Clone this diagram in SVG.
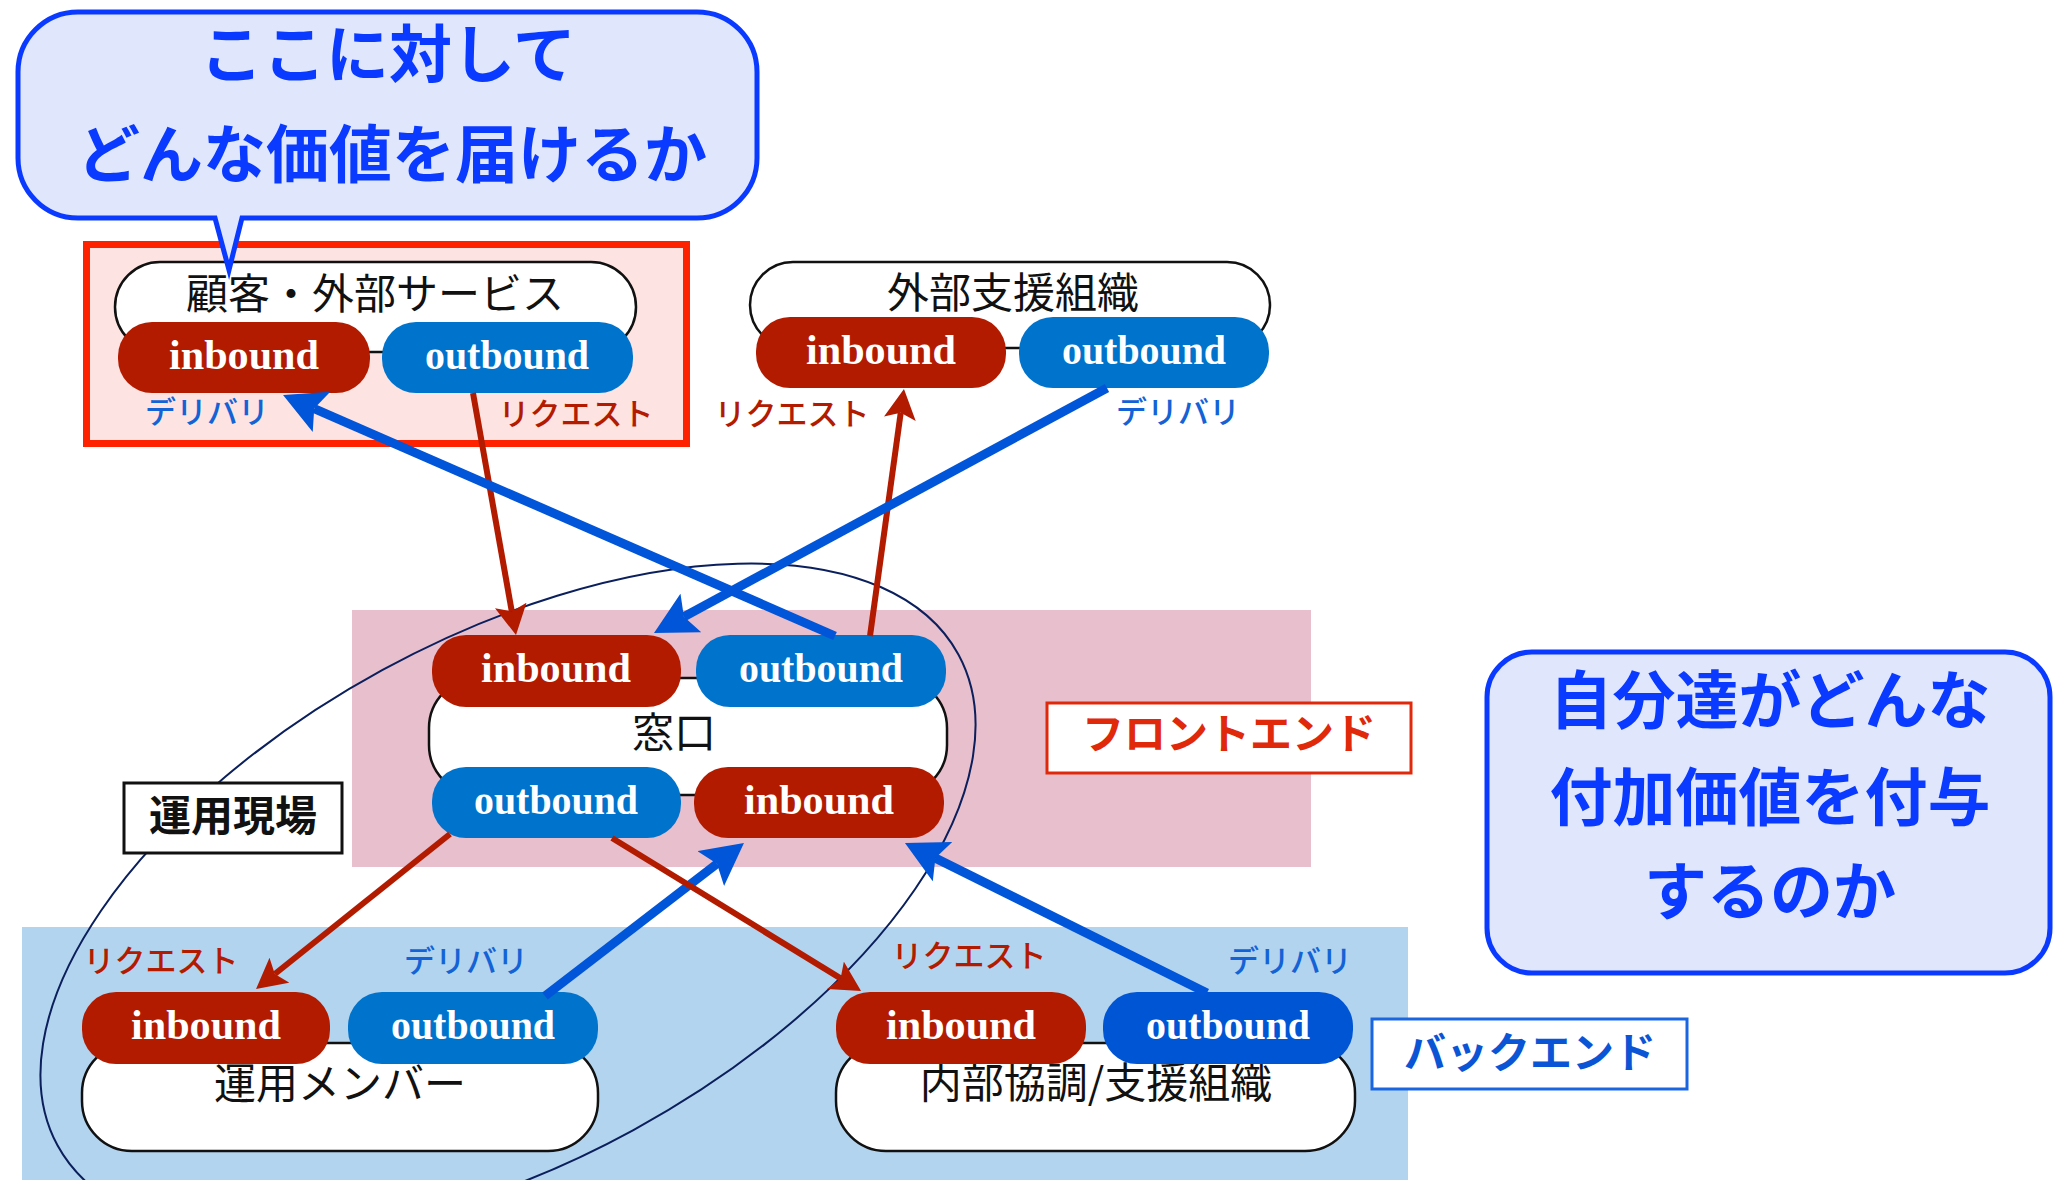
<svg xmlns="http://www.w3.org/2000/svg" width="2064" height="1180" viewBox="0 0 2064 1180">
<style>
.jp{font-family:'Noto Sans CJK JP','Noto Sans',sans-serif}
.title{font-size:42px;fill:#111;text-anchor:middle}
.cont{fill:#fff;stroke:#111;stroke-width:2.5}
.pin{fill:#b31b00}
.pout{fill:#0073cc}
.pout2{fill:#0055d5}
.pt{font-family:'Liberation Serif','Times New Roman',serif;font-weight:bold;font-size:42px;fill:#fff;text-anchor:middle}
.req{font-size:31px;font-weight:500;fill:#b31b00;text-anchor:middle}
.del{font-size:31px;font-weight:500;fill:#1363d6;text-anchor:middle}
.cl{fill:#e0e6fc;stroke:#0a3aff;stroke-width:5}
.clt{font-size:63px;font-weight:bold;fill:#0a3aff;text-anchor:middle}
.cr{fill:none;stroke:#b31b00;stroke-width:6}
.cb{fill:none;stroke:#0055d8;stroke-width:9}
</style>
<defs>
<marker id="ar" markerUnits="userSpaceOnUse" markerWidth="30" markerHeight="32" refX="6" refY="16" orient="auto" viewBox="0 0 30 32">
<path d="M0,0 L30,16 L0,32 L6,16 Z" fill="#b31b00"/>
</marker>
<marker id="ab" markerUnits="userSpaceOnUse" markerWidth="42" markerHeight="44" refX="8" refY="22" orient="auto" viewBox="0 0 42 44">
<path d="M0,0 L42,22 L0,44 L8,22 Z" fill="#0055d8"/>
</marker>
</defs>

<g id="areas">
<rect x="352" y="610" width="959" height="257" fill="#e8bfcc"/>
<rect x="22" y="927" width="1386" height="253" fill="#b3d4ee"/>
<rect x="86.5" y="244.5" width="600" height="199" fill="#fde3e1" stroke="#ff2200" stroke-width="7"/>
<ellipse cx="508" cy="900" rx="513" ry="262" transform="rotate(-28.6 508 900)" fill="none" stroke="#0a1f5c" stroke-width="2"/>
</g>

<g id="customer">
<rect class="cont" x="115" y="262" width="521" height="90" rx="45"/>
<text class="jp title" x="375" y="309">顧客・外部サービス</text>
<rect class="pin" x="118" y="322" width="252" height="71" rx="34"/>
<text class="pt" x="244" y="369" textLength="150" lengthAdjust="spacingAndGlyphs">inbound</text>
<rect class="pout" x="382" y="322" width="251" height="71" rx="34"/>
<text class="pt" x="507" y="369" textLength="164" lengthAdjust="spacingAndGlyphs">outbound</text>
<text class="jp del" x="207" y="423">デリバリ</text>
<text class="jp req" x="576" y="425">リクエスト</text>
</g>

<g id="external">
<rect class="cont" x="750" y="262" width="520" height="86" rx="43"/>
<text class="jp title" x="1013" y="308">外部支援組織</text>
<rect class="pin" x="756" y="317" width="250" height="71" rx="34"/>
<text class="pt" x="881" y="364" textLength="150" lengthAdjust="spacingAndGlyphs">inbound</text>
<rect class="pout" x="1019" y="317" width="250" height="71" rx="34"/>
<text class="pt" x="1144" y="364" textLength="164" lengthAdjust="spacingAndGlyphs">outbound</text>
<text class="jp req" x="792" y="425">リクエスト</text>
<text class="jp del" x="1178" y="423">デリバリ</text>
</g>

<g id="madoguchi">
<rect class="cont" x="429" y="678" width="518" height="117" rx="50"/>
<text class="jp title" x="674" y="748">窓口</text>
<rect class="pin" x="432" y="635" width="249" height="72" rx="34"/>
<text class="pt" x="556" y="682" textLength="150" lengthAdjust="spacingAndGlyphs">inbound</text>
<rect class="pout" x="696" y="635" width="250" height="72" rx="34"/>
<text class="pt" x="821" y="682" textLength="164" lengthAdjust="spacingAndGlyphs">outbound</text>
<rect class="pout" x="432" y="767" width="249" height="71" rx="34"/>
<text class="pt" x="556" y="814" textLength="164" lengthAdjust="spacingAndGlyphs">outbound</text>
<rect class="pin" x="694" y="767" width="250" height="71" rx="34"/>
<text class="pt" x="819" y="814" textLength="150" lengthAdjust="spacingAndGlyphs">inbound</text>
</g>

<g id="frontend-label">
<rect x="1047" y="703" width="364" height="70" fill="#fff" stroke="#e0280a" stroke-width="3"/>
<text class="jp" x="1229" y="749" font-size="42" font-weight="bold" fill="#e0280a" text-anchor="middle">フロントエンド</text>
</g>

<g id="backend-label">
<rect x="1372" y="1019" width="315" height="70" fill="#fff" stroke="#1a66e0" stroke-width="3"/>
<text class="jp" x="1530" y="1068" font-size="42" font-weight="bold" fill="#0a55d6" text-anchor="middle">バックエンド</text>
</g>

<g id="field-label">
<rect x="124" y="783" width="218" height="70" fill="#fff" stroke="#111" stroke-width="3"/>
<text class="jp" x="233" y="831" font-size="42" font-weight="bold" fill="#111" text-anchor="middle">運用現場</text>
</g>

<g id="members">
<rect class="cont" x="82" y="1043" width="516" height="108" rx="50"/>
<text class="jp title" x="340" y="1099">運用メンバー</text>
<rect class="pin" x="82" y="992" width="248" height="72" rx="34"/>
<text class="pt" x="206" y="1039" textLength="150" lengthAdjust="spacingAndGlyphs">inbound</text>
<rect class="pout" x="348" y="992" width="250" height="72" rx="34"/>
<text class="pt" x="473" y="1039" textLength="164" lengthAdjust="spacingAndGlyphs">outbound</text>
<text class="jp req" x="161" y="972">リクエスト</text>
<text class="jp del" x="466" y="972">デリバリ</text>
</g>

<g id="internal">
<rect class="cont" x="836" y="1043" width="519" height="108" rx="50"/>
<text class="jp title" x="1096" y="1098">内部協調/支援組織</text>
<rect class="pin" x="836" y="992" width="250" height="72" rx="34"/>
<text class="pt" x="961" y="1039" textLength="150" lengthAdjust="spacingAndGlyphs">inbound</text>
<rect class="pout2" x="1103" y="992" width="250" height="72" rx="34"/>
<text class="pt" x="1228" y="1039" textLength="164" lengthAdjust="spacingAndGlyphs">outbound</text>
<text class="jp req" x="969" y="967">リクエスト</text>
<text class="jp del" x="1290" y="972">デリバリ</text>
</g>

<g id="callout-top">
<path class="cl" d="M78,12 H697 A60,60 0 0 1 757,72 V158 A60,60 0 0 1 697,218 H242 L229,270 L215,218 H78 A60,60 0 0 1 18,158 V72 A60,60 0 0 1 78,12 Z"/>
<text class="jp clt" x="388" y="77">ここに対して</text>
<text class="jp clt" x="392" y="177">どんな価値を届けるか</text>
</g>

<g id="callout-right">
<rect class="cl" x="1487" y="652" width="563" height="321" rx="45"/>
<text class="jp clt" x="1770" y="723" font-size="62">自分達がどんな</text>
<text class="jp clt" x="1770" y="820" font-size="62">付加価値を付与</text>
<text class="jp clt" x="1770" y="914" font-size="62">するのか</text>
</g>

<g id="connectors">
<path class="cr" d="M473,393 L511.8,611.4" marker-end="url(#ar)"/>
<path class="cb" d="M835,636 L314.2,408.6" marker-end="url(#ab)"/>
<path class="cr" d="M870,636 L900.7,412.8" marker-end="url(#ar)"/>
<path class="cb" d="M1107,388 L683.9,616.8" marker-end="url(#ab)"/>
<path class="cr" d="M450,834 L274.8,974" marker-end="url(#ar)"/>
<path class="cb" d="M545,996 L717,863.7" marker-end="url(#ab)"/>
<path class="cr" d="M612,838 L840.6,978.4" marker-end="url(#ar)"/>
<path class="cb" d="M1207,993 L935.4,858.1" marker-end="url(#ab)"/>
</g>
</svg>
